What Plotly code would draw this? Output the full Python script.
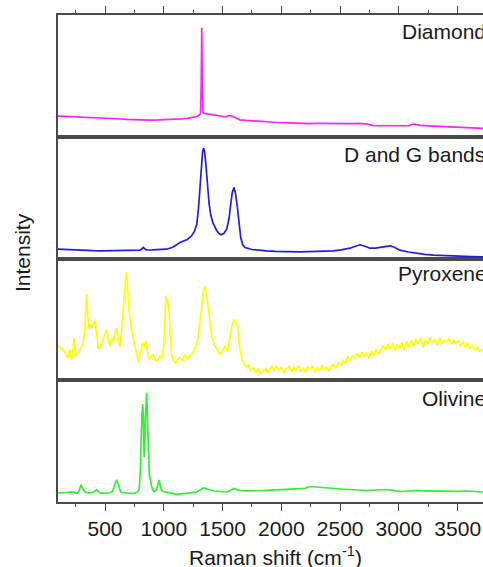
import plotly.graph_objects as go

# ---------------- data (heights in panel pixel units) ----------------
diamond_x = [100, 170, 240, 310, 380, 457, 520, 600, 680, 798, 880, 960, 1040, 1081, 1150, 1200, 1251,
             1280, 1300, 1312, 1318, 1323, 1328, 1334, 1345, 1380, 1420, 1478, 1520, 1545, 1563, 1585,
             1610, 1648, 1700, 1760, 1820, 1875, 1940, 2010, 2080, 2159, 2230, 2300, 2370, 2442, 2510,
             2580, 2669, 2730, 2783, 2850, 2920, 2980, 3038, 3080, 3110, 3123, 3140, 3180, 3250, 3320,
             3380, 3435, 3500, 3570, 3640, 3715]
diamond_y = [20.7, 20.4, 20.0, 19.6, 19.4, 19.0, 18.6, 18.0, 17.4, 16.7, 16.6, 16.8, 17.0, 17.3, 17.8, 18.4, 19.3,
             20.2, 21.7, 23.0, 50.0, 109.0, 50.0, 24.0, 23.3, 22.6, 21.5, 20.2, 20.0, 20.6, 21.2, 20.4,
             19.0, 16.9, 16.3, 15.7, 15.4, 15.0, 14.5, 14.2, 13.8, 13.4, 13.2, 13.3, 13.1, 13.3, 13.4,
             13.2, 13.3, 12.6, 11.2, 11.0, 10.9, 10.8, 10.7, 11.0, 12.2, 12.7, 12.4, 11.3, 10.9, 10.5,
             10.2, 10.0, 9.6, 9.2, 8.8, 8.3]

dg_x = [100, 170, 240, 320, 400, 457, 540, 620, 700, 798, 812, 826, 840, 854, 900, 960, 1025, 1080, 1138,
        1200, 1237, 1260, 1280, 1295, 1308, 1320, 1330, 1339, 1348, 1358, 1370, 1385, 1400, 1420, 1450,
        1470, 1487, 1510, 1535, 1555, 1569, 1583, 1597, 1610, 1626, 1640, 1654, 1670, 1691, 1750, 1810,
        1875, 1950, 2020, 2090, 2159, 2230, 2300, 2370, 2442, 2510, 2584, 2630, 2669, 2710, 2754, 2800,
        2839, 2880, 2924, 2960, 3009, 3080, 3151, 3220, 3293, 3380, 3460, 3540, 3620, 3715]
dg_y = [9.3, 8.8, 8.4, 8.0, 7.8, 7.7, 7.9, 7.6, 7.9, 8.3, 9.5, 11.0, 9.4, 8.5, 8.6, 8.9, 9.3, 11.5, 16.0,
        19.0, 22.7, 27.0, 34.0, 50.0, 72.0, 95.0, 107.0, 110.3, 106.0, 94.0, 75.0, 55.0, 43.0, 35.0, 28.0,
        25.0, 23.7, 25.0, 29.3, 40.0, 54.3, 66.0, 71.0, 65.0, 51.0, 35.0, 21.0, 14.0, 11.0, 9.0, 8.2,
        7.7, 7.2, 6.9, 6.7, 6.7, 6.9, 7.1, 7.4, 7.7, 8.6, 10.3, 12.2, 13.7, 12.3, 10.3, 10.4,
        11.0, 11.9, 12.7, 11.2, 8.3, 6.5, 5.0, 4.1, 3.3, 2.8, 2.4, 2.1, 1.9, 1.7]

pyr_x = [100, 125, 145, 165, 182, 202, 216, 226, 236, 245, 253, 270, 287, 300, 315, 330, 344, 355, 366, 376,
         386, 400, 415, 430, 443, 457, 471, 492, 514, 528, 542, 557, 571, 585, 599, 613, 627, 642, 656, 670,
         684, 694, 704, 722, 741, 762, 783, 800, 817, 832, 846, 860, 874, 893, 911, 932, 953, 970, 987, 1003,
         1018, 1031, 1044, 1055, 1066, 1083, 1101, 1119, 1137, 1158, 1180, 1200, 1222, 1240, 1259, 1276,
         1293, 1308, 1322, 1336, 1350, 1364, 1378, 1392, 1407, 1428, 1449, 1466, 1483, 1501, 1520, 1541,
         1562, 1580, 1596, 1610, 1625, 1636, 1647, 1662, 1676, 1700, 1718, 1735, 1761, 1780, 1803, 1820,
         1846, 1865, 1880, 1900, 1920, 1940, 1960, 1980, 2000, 2020, 2045, 2065, 2085, 2105, 2125, 2145,
         2165, 2185, 2205, 2225, 2245, 2265, 2285, 2305, 2325, 2345, 2365, 2385, 2405, 2425, 2445, 2465,
         2485, 2505, 2525, 2545, 2565, 2585, 2605, 2625, 2645, 2665, 2685, 2705, 2725, 2745, 2765, 2785,
         2805, 2825, 2845, 2865, 2885, 2905, 2925, 2945, 2965, 2985, 3005, 3025, 3045, 3065, 3085, 3105,
         3125, 3145, 3165, 3185, 3205, 3225, 3245, 3265, 3285, 3305, 3325, 3345, 3365, 3385, 3405, 3425,
         3445, 3465, 3485, 3505, 3525, 3545, 3565, 3585, 3605, 3625, 3645, 3665, 3685, 3715]
pyr_y = [34.7, 31.5, 30.7, 26.0, 22.3, 30.7, 20.7, 29.0, 42.3, 30.0, 24.0, 28.0, 30.7, 33.0, 35.7, 55.0, 85.7, 62.0, 50.7, 56.0,
         52.3, 55.0, 60.7, 45.0, 30.7, 33.0, 37.3, 44.0, 50.7, 40.0, 34.0, 42.0, 39.0, 47.0, 52.3, 40.0, 33.3, 50.0, 77.3, 95.0,
         108.0, 90.0, 70.7, 52.0, 40.7, 28.0, 19.0, 27.0, 37.3, 33.0, 39.0, 30.0, 20.7, 24.0, 25.7, 19.0, 20.7, 24.0, 22.3, 40.0,
         84.0, 80.0, 70.7, 45.0, 25.7, 19.0, 17.3, 21.0, 22.3, 19.5, 25.7, 21.5, 24.0, 27.0, 30.7, 36.0,
         44.0, 58.0, 74.0, 88.0, 94.0, 86.0, 73.0, 58.0, 44.0, 36.0, 30.7, 28.0, 25.7, 30.0, 34.0, 29.0,
         44.0, 55.0, 60.7, 58.0, 56.0, 44.0, 30.7, 22.0, 17.3, 13.0, 15.0, 10.0, 12.3, 8.0, 11.0, 7.0,
         9.0, 12.0, 7.0, 11.0, 14.0, 9.0, 14.3, 10.0, 13.0, 8.0, 11.0, 14.0, 9.0, 13.0, 10.0, 15.0,
         9.0, 12.0, 8.0, 13.0, 11.0, 14.0, 9.0, 12.0, 10.0, 15.0, 11.0, 13.0, 9.0, 14.0, 16.0, 12.0,
         18.0, 15.0, 20.0, 17.0, 24.0, 19.0, 25.0, 22.0, 27.0, 23.0, 28.0, 24.0, 27.0, 22.0, 29.0, 25.0,
         31.0, 26.0, 30.0, 35.0, 30.0, 36.0, 31.0, 37.0, 29.0, 36.0, 32.0, 38.0, 30.0, 39.0, 33.0, 40.0,
         34.0, 41.0, 36.0, 42.0, 33.0, 40.0, 36.0, 43.0, 37.0, 41.0, 35.0, 42.0, 37.0, 40.0, 38.0, 42.0,
         36.0, 40.0, 37.0, 39.0, 35.0, 38.0, 33.0, 37.0, 32.0, 35.0, 30.0, 34.0, 29.0, 31.0]

oli_x = [100, 140, 174, 205, 231, 250, 265, 281, 296, 312, 330, 358, 387, 408, 429, 443, 457, 485, 514, 536,
         557, 570, 579, 590, 599, 609, 619, 632, 642, 670, 698, 720, 741, 760, 775, 785, 792, 800, 806, 813,
         820, 825, 829, 833, 837, 842, 846, 850, 854, 858, 863, 867, 871, 877, 883, 890, 897, 907, 917, 930,
         940, 950, 959, 969, 979, 995, 1010, 1060, 1110, 1150, 1195, 1240, 1280, 1310, 1336, 1365, 1393,
         1435, 1478, 1505, 1535, 1565, 1592, 1620, 1648, 1700, 1761, 1820, 1875, 1945, 2017, 2090, 2159,
         2200, 2244, 2290, 2329, 2385, 2442, 2510, 2584, 2650, 2726, 2810, 2896, 2950, 3009, 3080, 3151,
         3220, 3293, 3360, 3435, 3500, 3577, 3640, 3715]
oli_y = [9.0, 9.6, 9.5, 9.8, 10.0, 9.0, 8.5, 12.0, 17.3, 13.0, 10.0, 9.2, 9.5, 10.5, 12.3, 10.5, 9.0, 8.8, 8.5, 9.0,
         10.0, 12.5, 16.0, 20.0, 22.3, 19.0, 14.0, 10.5, 9.5, 9.2, 9.5, 9.0, 8.5, 9.2, 10.0, 11.5, 14.0, 30.0, 60.0, 85.0,
         97.7, 88.0, 60.0, 45.0, 52.0, 80.0, 100.0, 108.0, 109.3, 95.0, 70.0, 45.0, 30.0, 26.0, 24.0, 19.0, 15.0, 12.0, 10.5, 11.5,
         13.0, 17.0, 21.7, 17.0, 12.0, 10.5, 10.0, 8.8, 7.7, 8.0, 8.5, 9.3, 10.0, 12.0, 14.0, 13.2, 12.0,
         11.0, 10.5, 10.2, 10.0, 11.5, 13.3, 12.6, 11.5, 11.2, 11.0, 11.3, 11.7, 12.1, 12.5, 12.8, 13.0,
         13.6, 15.5, 15.0, 14.5, 14.0, 13.5, 13.0, 12.5, 12.0, 11.5, 12.0, 12.5, 11.6, 10.5, 11.0, 11.5,
         11.2, 11.0, 10.8, 10.5, 10.7, 11.0, 10.5, 10.0]

x_ticks = [500, 1000, 1500, 2000, 2500, 3000, 3500]
x_tick_labels = ["500", "1000", "1500", "2000", "2500", "3000", "3500"]
x_minor_ticks = [250, 750, 1250, 1750, 2250, 2750, 3250, 3750]
panel_labels = ["Diamond", "D and G bands", "Pyroxene", "Olivine"]

# ---------------- styling ----------------
FONT = "Liberation Sans, Arial, sans-serif"
FRAME = "#4a4a4a"
TXT = "#1a1a1a"
FS = 21
W, H = 483, 567
ML, MR, MT, MB = 58, 0, 15, 65
PH = H - MT - MB

series = [
    (diamond_x, diamond_y, "#ff22ff"),
    (dg_x, dg_y, "#1f1fe0"),
    (pyr_x, pyr_y, "#ffff00"),
    (oli_x, oli_y, "#33ee33"),
]

fig = go.Figure()
# panel index 0 (top) .. 3 (bottom); axis number: bottom = 1, top = 4
for i, (xs, ys, col) in enumerate(series):
    n = 4 - i
    sfx = "" if n == 1 else str(n)
    fig.add_trace(go.Scatter(x=xs, y=ys, mode="lines", line=dict(color=col, width=1.7),
                             xaxis="x" + sfx, yaxis="y" + sfx, showlegend=False, hoverinfo="skip"))

layout = dict(width=W, height=H, margin=dict(l=ML, r=MR, t=MT, b=MB, pad=0),
              paper_bgcolor="white", plot_bgcolor="white", showlegend=False,
              font=dict(family=FONT, size=FS, color=TXT))

for n in range(1, 5):
    sfx = "" if n == 1 else str(n)
    d0 = (n - 1) / 4
    d1 = n / 4
    xa = dict(range=[100, 3715], showgrid=False, zeroline=False, showline=True, mirror=True,
              linecolor=FRAME, linewidth=1.6, anchor="y" + sfx, domain=[0, 1],
              tickmode="array", tickvals=x_ticks, ticktext=x_tick_labels,
              showticklabels=False, ticks="")
    if n != 1:
        xa["matches"] = "x"
    if n == 1:
        xa.update(ticks="outside", ticklen=7, tickwidth=1.4, tickcolor=FRAME, showticklabels=True,
                  tickfont=dict(family=FONT, size=FS, color=TXT),
                  minor=dict(tickvals=x_minor_ticks, ticks="outside", ticklen=3.5, tickwidth=1.4, tickcolor=FRAME))
    if n == 4:
        xa.update(side="top", ticks="outside", ticklen=7, tickwidth=1.4, tickcolor=FRAME,
                  minor=dict(tickvals=x_minor_ticks, ticks="outside", ticklen=3.5, tickwidth=1.4, tickcolor=FRAME))
    ya = dict(range=[0, PH / 4], domain=[d0, d1], showgrid=False, zeroline=False, showline=True,
              mirror=False, linecolor=FRAME, linewidth=1.6, showticklabels=False, ticks="",
              anchor="x" + sfx, fixedrange=True)
    layout["xaxis" + sfx] = xa
    layout["yaxis" + sfx] = ya

fig.update_layout(**layout)

PW = W - ML - MR

def px_x(p):
    return (p - ML) / PW

def px_y(p):
    return (MT + PH - p) / PH

label_left = [400, 342, 396, 420]
label_centers = [31, 154.5, 273, 398]
for lab, lx, cy in zip(panel_labels, label_left, label_centers):
    fig.add_annotation(text=lab, xref="paper", yref="paper", x=px_x(lx), y=px_y(cy),
                       xanchor="left", yanchor="middle", showarrow=False,
                       font=dict(family=FONT, size=FS, color=TXT))

fig.add_annotation(text="Raman shift (cm<sup>-1</sup>)", xref="paper", yref="paper",
                   x=px_x(275), y=px_y(556), xanchor="center", yanchor="middle", showarrow=False,
                   font=dict(family=FONT, size=FS, color=TXT))
fig.add_annotation(text="Intensity", xref="paper", yref="paper", x=px_x(22), y=px_y(253),
                   xanchor="center", yanchor="middle", textangle=-90, showarrow=False,
                   font=dict(family=FONT, size=FS, color=TXT))

fig.write_html("out.html", config={"displayModeBar": False},
               post_script="document.body.style.margin='0';document.body.style.overflow='hidden';"
                           "document.documentElement.style.overflow='hidden';")
